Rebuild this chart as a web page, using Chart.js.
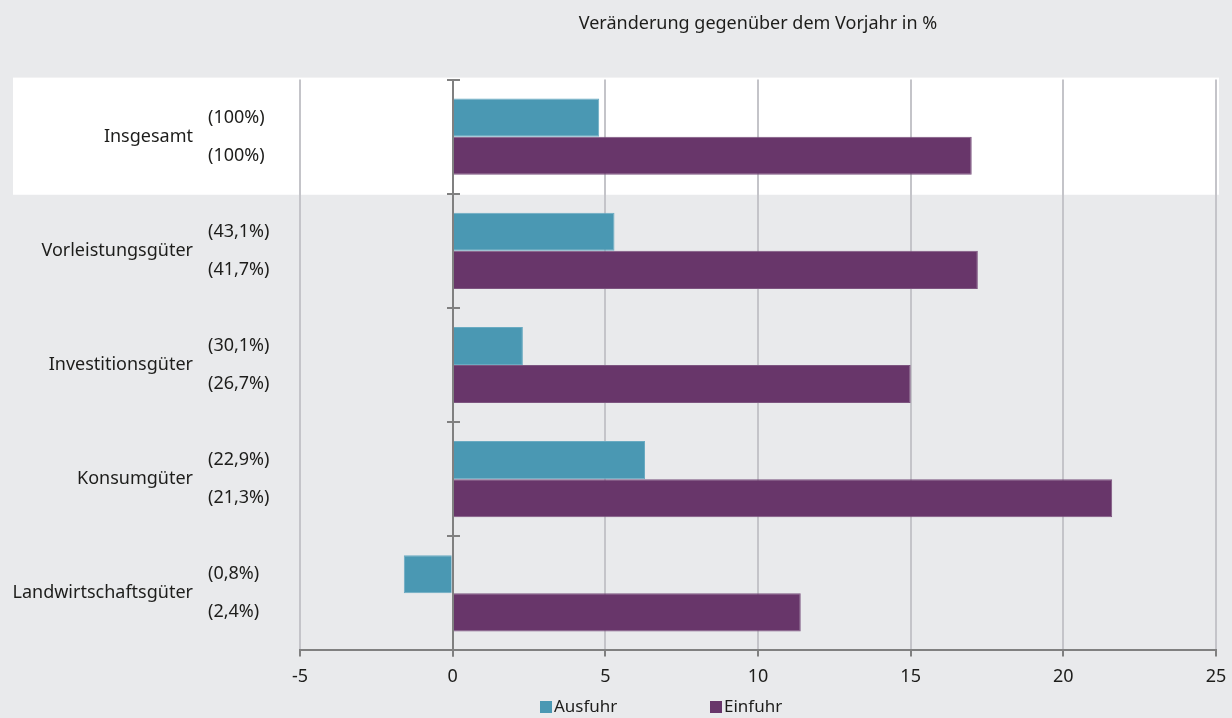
<!DOCTYPE html>
<html lang="de">
<head>
<meta charset="utf-8">
<title>Außenhandel nach Gütergruppen</title>
<script src="https://cdn.jsdelivr.net/npm/chart.js@4/dist/chart.umd.min.js"></script>
<style>
  html, body { margin: 0; padding: 0; background: #e9eaec; }
  #wrap { width: 1232px; height: 718px; position: relative; }
</style>
</head>
<body>
<div id="wrap"><canvas id="chart-aussenhandel"></canvas></div>
<script>
// Gütergruppen mit Anteilen (Ausfuhr oben, Einfuhr unten)
const kategorien = ['Insgesamt', 'Vorleistungsgüter', 'Investitionsgüter', 'Konsumgüter', 'Landwirtschaftsgüter'];
const anteilAusfuhr = ['(100%)', '(43,1%)', '(30,1%)', '(22,9%)', '(0,8%)'];
const anteilEinfuhr = ['(100%)', '(41,7%)', '(26,7%)', '(21,3%)', '(2,4%)'];

// Veränderung gegenüber dem Vorjahr in %
const ausfuhr = [4.8, 5.3, 2.3, 6.3, -1.6];
const einfuhr = [17.0, 17.2, 15.0, 21.6, 11.4];

const achseMin = -5;
const achseMax = 25;
const achseSchritt = 5;

const FONT = '"Noto Sans", "Open Sans", sans-serif';
const TEXT = '#1d1d1b';
const ACHSE = '#808080';
const GITTER = '#c4c4c9';
const HINTERGRUND = '#e9eaec';

// Hintergrund, weiße Zeile für "Insgesamt", Beschriftungen links, Nulllinie, Legende
const rahmenPlugin = {
  id: 'rahmen',
  beforeDraw(chart) {
    const { ctx, chartArea, scales } = chart;
    ctx.save();
    ctx.fillStyle = HINTERGRUND;
    ctx.fillRect(0, 0, chart.width, chart.height);
    const y = scales.y;
    const halb = (y.getPixelForValue(1) - y.getPixelForValue(0)) / 2;
    const oben = y.getPixelForValue(0) - halb;
    ctx.fillStyle = '#ffffff';
    ctx.fillRect(13, oben - 2, chartArea.right + 3 - 13, 2 * halb + 3);
    ctx.restore();
  },
  afterDatasetsDraw(chart) {
    const { ctx, chartArea, scales } = chart;
    const x = scales.x, y = scales.y;
    const x0 = Math.round(x.getPixelForValue(0));
    const halb = (y.getPixelForValue(1) - y.getPixelForValue(0)) / 2;
    ctx.save();
    // Nulllinie mit Markierungen an den Gruppengrenzen
    ctx.strokeStyle = ACHSE;
    ctx.lineWidth = 2;
    ctx.beginPath();
    ctx.moveTo(x0, chartArea.top);
    ctx.lineTo(x0, chartArea.bottom + 6);
    for (let i = 0; i <= kategorien.length; i++) {
      const yy = Math.round(y.getPixelForValue(0) - halb + i * 2 * halb);
      ctx.moveTo(x0 - 6, yy);
      ctx.lineTo(x0 + 7, yy);
    }
    ctx.stroke();

    // Beschriftung links
    ctx.fillStyle = TEXT;
    ctx.font = '18px ' + FONT;
    ctx.textBaseline = 'middle';
    kategorien.forEach((name, i) => {
      const mitte = y.getPixelForValue(i);
      ctx.textAlign = 'right';
      ctx.fillText(name, 193, mitte);
      ctx.textAlign = 'left';
      ctx.fillText(anteilAusfuhr[i], 208, mitte - 19);
      ctx.fillText(anteilEinfuhr[i], 208, mitte + 19);
    });

    // Legende unten
    const eintraege = chart.data.datasets.map(d => ({ text: d.label, farbe: d.backgroundColor }));
    const startX = [540, 710];
    ctx.font = '17px ' + FONT;
    eintraege.forEach((e, i) => {
      ctx.fillStyle = e.farbe;
      ctx.fillRect(startX[i], 701, 12, 12);
      ctx.fillStyle = TEXT;
      ctx.textAlign = 'left';
      ctx.fillText(e.text, startX[i] + 14, 707);
    });
    ctx.restore();
  }
};

const ctx = document.getElementById('chart-aussenhandel').getContext('2d');
new Chart(ctx, {
  type: 'bar',
  data: {
    labels: kategorien,
    datasets: [
      { label: 'Ausfuhr', data: ausfuhr, backgroundColor: '#4a98b3', borderColor: '#6aabc2', borderWidth: 1 },
      { label: 'Einfuhr', data: einfuhr, backgroundColor: '#68366a', borderColor: '#7d5580', borderWidth: 1 }
    ]
  },
  options: {
    indexAxis: 'y',
    responsive: true,
    maintainAspectRatio: false,
    animation: false,
    categoryPercentage: 0.667,
    barPercentage: 1.0,
    layout: { padding: { left: 300, right: 16, top: 0, bottom: 20 } },
    scales: {
      x: {
        min: achseMin,
        max: achseMax,
        // letzte Beschriftung darf über den Rand ragen
        afterFit: s => { s.paddingRight = 0; },
        ticks: { stepSize: achseSchritt, color: TEXT, font: { family: FONT, size: 18 }, padding: 10 },
        grid: { color: GITTER, lineWidth: 2, drawTicks: true, tickLength: 6, tickColor: ACHSE, tickWidth: 2 },
        border: { display: true, color: ACHSE, width: 2 }
      },
      y: { display: false }
    },
    plugins: {
      legend: { display: false },
      tooltip: { enabled: false },
      title: {
        display: true,
        text: 'Veränderung gegenüber dem Vorjahr in %',
        color: TEXT,
        font: { family: FONT, size: 18, weight: 'normal' },
        padding: { top: 13, bottom: 45 }
      }
    }
  },
  plugins: [rahmenPlugin]
});
</script>
</body>
</html>
